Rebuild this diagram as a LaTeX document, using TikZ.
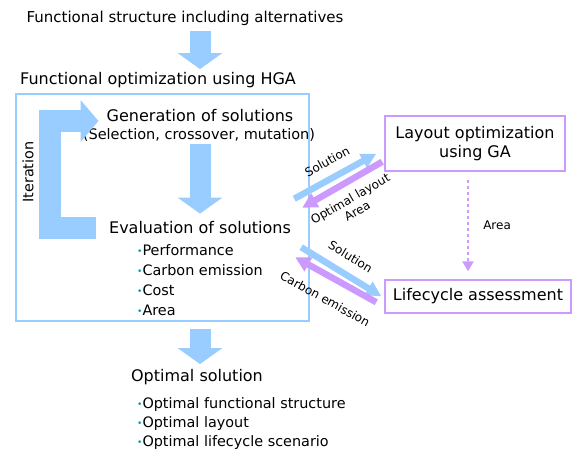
\documentclass[tikz,border=0pt]{standalone}
\usepackage{fontspec}
\setmainfont{DejaVu Sans}
\usetikzlibrary{arrows.meta}
\definecolor{arrowblue}{RGB}{153,204,255}
\definecolor{arrowpurple}{RGB}{204,153,255}
\definecolor{bulletteal}{RGB}{0,153,153}
\newcommand{\bul}{{\color{bulletteal}\fontsize{9}{9}\selectfont\raisebox{1.2pt}{•}}}
\begin{document}
\begin{tikzpicture}[x=1pt,y=-1pt,
  big/.style={inner sep=0pt,font=\fontsize{16}{19}\selectfont},
  small/.style={inner sep=0pt,font=\fontsize{14.4}{20}\selectfont,align=left},
  lbl/.style={inner sep=1pt,text=black,font=\fontsize{12}{14}\selectfont},
  purplebox/.style={draw=arrowpurple,line width=1.5pt,inner sep=0pt,align=center,
    font=\fontsize{16}{19}\selectfont},
  downarrow/.style={arrowblue,line width=21pt,-{Triangle[length=16pt,width=44pt]}},
  thinblue/.style={arrowblue,line width=6.5pt,-{Triangle[length=15pt,width=15pt]}},
  thinpurple/.style={arrowpurple,line width=6.5pt,-{Triangle[length=15pt,width=15pt]}},
  areaarrow/.style={arrowpurple,line width=2.5pt,dash pattern=on 3pt off 3pt,
    -{Triangle[length=10pt,width=11pt]}}]
\useasboundingbox (0,0) rectangle (573,455);
% texts and boxes
\node[big,font=\fontsize{15}{18}\selectfont] (title) at (185,18) {Functional structure including alternatives};
\node[big,anchor=west] (hga) at (20,80) {Functional optimization using HGA};
\node[draw=arrowblue,line width=1.3pt,minimum width=293pt,minimum height=227pt,inner sep=0pt]
  (hgabox) at (162.5,207.5) {};
\node[big] (gen) at (200,116) {Generation of solutions};
\node[big,font=\fontsize{14.5}{17}\selectfont] (sel) at (199,135) {(Selection, crossover, mutation)};
\node[big] (eval) at (200,228) {Evaluation of solutions};
\node[small,anchor=west] (crit) at (137,280) {\bul Performance\\\bul Carbon emission\\\bul Cost\\\bul Area};
\node[big,font=\fontsize{14.4}{17}\selectfont,rotate=90] (iter) at (28,172) {Iteration};
\node[purplebox,minimum width=180pt,minimum height=55pt] (lay) at (475,143.5) {Layout optimization\\using GA};
\node[purplebox,minimum width=186pt,minimum height=33pt] (lca) at (478,296.5) {Lifecycle assessment};
\node[big] (optsol) at (197,377) {Optimal solution};
\node[small,anchor=west,font=\fontsize{14.4}{19}\selectfont] (res) at (137,424)
  {\bul Optimal functional structure\\\bul Optimal layout\\\bul Optimal lifecycle scenario};
% big arrows
\draw[downarrow,shorten <=6pt,shorten >=3pt] (title.south -| gen.north) -- (hga.north -| gen.north);
\draw[downarrow,shorten <=2pt,shorten >=8pt] (sel.south -| gen.north) -- (eval.north);
\draw[downarrow,shorten <=7pt,shorten >=5pt] (hgabox.south -| gen.north) -- (optsol.north -| gen.north);
\coordinate (iterstart) at ([xshift=-13pt]eval.west);
\coordinate (itertip) at ([xshift=-8pt,yshift=-5pt]gen.west);
\draw[arrowblue,line width=22pt,-{Triangle[length=18pt,width=41pt]}] (iterstart) -- ++(-46,0) |- (itertip);
% exchange with the side boxes
\draw[thinblue] ([shift={(-90,27)}]lay.south west) -- ([shift={(-8,-18)}]lay.south west)
  node[midway,above=8pt,sloped,lbl] {Solution};
\draw[thinpurple] ([shift={(-2,-10)}]lay.south west) -- ([shift={(-82,36)}]lay.south west)
  node[midway,below=7pt,sloped,lbl,align=center] {Optimal layout\\Area};
\draw[thinblue] ([shift={(-83,-32)}]lca.north west) -- ([shift={(-3,17)}]lca.north west)
  node[midway,above=9pt,sloped,lbl] {Solution};
\draw[thinpurple] ([shift={(-8,23)}]lca.north west) -- ([shift={(-89,-22)}]lca.north west)
  node[midway,below=13pt,sloped,lbl] {Carbon emission};
\draw[areaarrow,shorten <=8pt,shorten >=8pt] ([xshift=-7pt]lay.south) -- ([xshift=-10pt]lca.north)
  node[midway,right=13pt,lbl] {Area};
\end{tikzpicture}
\end{document}
